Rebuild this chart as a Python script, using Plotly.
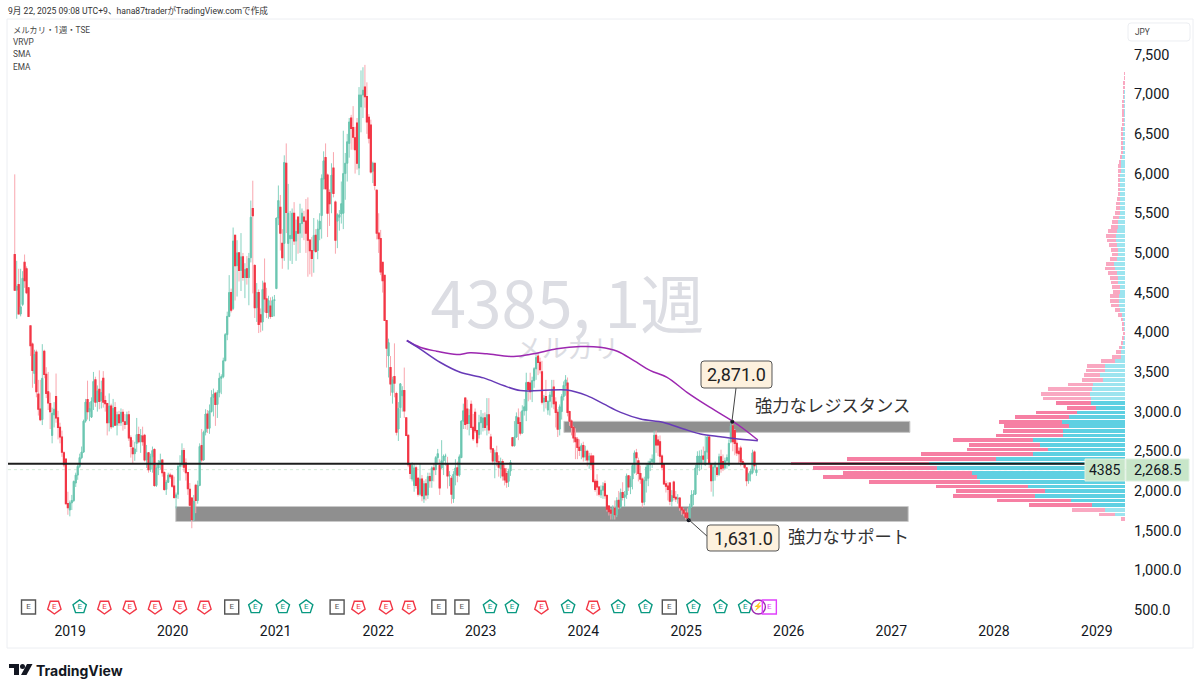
import pandas as pd
import plotly.graph_objects as go

# weekly candles, 13 per row
open_ = [
    4980, 4530, 4600, 4230, 4350, 4880, 4800, 4560, 4080, 3850, 3480, 3750, 3220,
    3030, 2900, 3760, 3470, 3250, 3100, 2700, 2960, 3190, 2920, 2800, 2680, 2480,
    2400, 1840, 1760, 1850, 1880, 2100, 2200, 2310, 2420, 2490, 2880, 3150, 3000,
    2930, 3130, 3400, 3120, 3280, 3140, 3420, 3140, 3100, 2860, 3070, 2810, 3050,
    2830, 2960, 2860, 2990, 2870, 2840, 2960, 2670, 2540, 2470, 2600, 2710, 2620,
    2690, 2700, 2390, 2480, 2270, 2430, 2520, 2070, 2290, 2340, 2390, 2230, 2020,
    2110, 2200, 2190, 2060, 1920, 1960, 2310, 2330, 2510, 2350, 2230, 2020, 1910,
    1640, 2070, 1880, 2070, 2570, 2390, 2740, 2970, 2790, 3000, 3180, 3230, 3090,
    3240, 3420, 3440, 3640, 3970, 4200, 4500, 4300, 5220, 4840, 5000, 4780, 4950,
    4690, 4800, 4690, 4940, 5560, 4840, 4310, 4500, 4220, 4130, 4620, 4420, 4250,
    4330, 4200, 4400, 4550, 5440, 5575, 5120, 5120, 6130, 5120, 5180, 5180, 5500,
    5150, 5450, 5250, 5370, 5450, 5400, 5540, 5160, 5030, 5030, 5220, 5030, 5300,
    5470, 5930, 6200, 5980, 5760, 5760, 6070, 5640, 5400, 5450, 5490, 5500, 6000,
    6130, 6380, 6700, 6580, 6450, 6635, 6070, 6840, 6990, 7090, 6970, 6710, 6610,
    6030, 6130, 5790, 5250, 5180, 4880, 4716, 4148, 3700, 3555, 3240, 3440, 3227,
    2780, 3050, 3200, 3265, 2920, 2700, 2340, 2150, 2070, 2290, 2160, 1960, 2150,
    1900, 2090, 1950, 2180, 2130, 2290, 2270, 2420, 2320, 2290, 2380, 2440, 2340,
    2190, 2160, 1900, 2210, 2290, 2200, 2420, 2880, 3170, 3030, 2850, 3090, 2800,
    2990, 2760, 2710, 2860, 2800, 2920, 2830, 2960, 2680, 2530, 2380, 2480, 2370,
    2280, 2370, 2280, 2220, 2120, 2250, 2670, 2570, 2680, 2920, 2860, 2730, 3010,
    3012, 3365, 3360, 3260, 3390, 3540, 3700, 3620, 3500, 3120, 3190, 3020, 3130,
    3190, 3310, 3120, 2990, 2780, 3000, 3190, 3330, 3360, 3000, 2880, 2800, 2670,
    2650, 2550, 2510, 2570, 2430, 2500, 2390, 2440, 2440, 2120, 2120, 2050, 1950,
    2010, 2090, 1940, 1810, 1760, 1690, 1780, 1700, 1880, 1800, 1980, 1920, 1950,
    2190, 2050, 2150, 2230, 2480, 2380, 2220, 2150, 1860, 2130, 2160, 2330, 2370,
    2360, 2700, 2640, 2620, 2440, 2340, 2090, 2060, 2100, 1870, 2110, 1920, 1900,
    1910, 1790, 1760, 1720, 1720, 1660, 1800, 1950, 1960, 2290, 2340, 2340, 2440,
    2330, 2490, 2680, 2340, 2130, 2300, 2290, 2210, 2430, 2370, 2290, 2380, 2320,
    2620, 2820, 2760, 2600, 2500, 2540, 2370, 2340, 2290, 2130, 2210, 2230, 2490, 2230,
]
high = [
    5990, 4900, 4800, 4800, 4770, 4980, 4830, 4560, 4080, 3870, 3780, 3780, 3400,
    3400, 3850, 3780, 3560, 3500, 3240, 3050, 3120, 3480, 3010, 2860, 2760, 2500,
    2400, 1990, 1880, 1950, 2130, 2230, 2350, 2470, 2560, 2900, 3160, 3390, 3120,
    3180, 3500, 3440, 3330, 3520, 3390, 3510, 3200, 3110, 3230, 3100, 3160, 3120,
    3000, 3010, 3040, 3030, 2970, 3000, 3010, 2700, 2640, 2620, 2920, 2810, 2780,
    2810, 2720, 2580, 2490, 2470, 2560, 2540, 2330, 2390, 2470, 2400, 2250, 2140,
    2230, 2230, 2210, 2180, 1980, 2340, 2450, 2600, 2540, 2410, 2240, 2100, 1920,
    1950, 2090, 2130, 2600, 2780, 2760, 3030, 3020, 3090, 3270, 3290, 3250, 3270,
    3490, 3470, 3680, 3990, 4260, 4720, 4550, 5320, 5230, 5160, 5000, 5250, 5000,
    4870, 4960, 5000, 5660, 5910, 4860, 4620, 4540, 4300, 4650, 4930, 4560, 4460,
    4440, 4450, 4470, 5440, 5850, 5730, 5300, 6230, 6380, 5870, 5530, 5560, 5640,
    5420, 5450, 5620, 5560, 5530, 5680, 5700, 5170, 5200, 5440, 5300, 5420, 5500,
    5990, 6280, 6380, 6000, 5800, 6130, 6270, 5660, 5500, 5540, 5900, 6540, 6260,
    6500, 6700, 6740, 6850, 6590, 6700, 7090, 7300, 7340, 7370, 7150, 6750, 6680,
    6150, 6130, 5800, 5500, 5290, 4880, 4720, 4150, 3920, 3700, 3440, 3860, 3250,
    3120, 3360, 3320, 3555, 2930, 2710, 2340, 2360, 2340, 2320, 2170, 2350, 2200,
    2130, 2150, 2230, 2230, 2310, 2350, 2440, 2530, 2400, 2640, 2460, 2470, 2430,
    2250, 2190, 2250, 2400, 2370, 2460, 2890, 3100, 3180, 3150, 3030, 3140, 2970,
    3040, 2770, 2960, 3020, 2980, 2990, 3170, 3170, 2720, 2540, 2520, 2570, 2450,
    2420, 2400, 2330, 2290, 2280, 2390, 2680, 2880, 2990, 3040, 3000, 3080, 3160,
    3490, 3380, 3490, 3440, 3560, 3720, 3750, 3680, 3640, 3210, 3400, 3140, 3250,
    3400, 3400, 3180, 3030, 3090, 3220, 3380, 3460, 3430, 3010, 2900, 2820, 2790,
    2680, 2650, 2600, 2620, 2570, 2520, 2480, 2480, 2450, 2150, 2210, 2060, 2070,
    2110, 2130, 1960, 1820, 1780, 1820, 1880, 1920, 2000, 2030, 2110, 2000, 2220,
    2200, 2190, 2350, 2510, 2530, 2420, 2320, 2170, 2180, 2340, 2380, 2410, 2460,
    2760, 2760, 2690, 2700, 2460, 2350, 2130, 2110, 2110, 2010, 2130, 2000, 1960,
    1920, 1810, 1780, 1750, 1780, 1840, 2010, 2010, 2330, 2500, 2510, 2520, 2560,
    2690, 2690, 2700, 2350, 2340, 2370, 2340, 2470, 2520, 2460, 2420, 2460, 2650,
    2871, 2860, 2780, 2640, 2550, 2570, 2400, 2360, 2300, 2230, 2280, 2520, 2510, 2340,
]
low = [
    4530, 4170, 4230, 4200, 4330, 4560, 4480, 4200, 3700, 3300, 3350, 3180, 2950,
    2880, 2830, 3420, 3170, 3020, 2780, 2600, 2800, 2860, 2650, 2600, 2430, 2300,
    1830, 1700, 1680, 1760, 1860, 2050, 2140, 2290, 2400, 2480, 2860, 2900, 2880,
    2920, 3020, 3060, 3000, 3030, 3040, 3050, 3000, 2700, 2750, 2780, 2800, 2820,
    2700, 2820, 2820, 2760, 2780, 2840, 2630, 2420, 2350, 2380, 2490, 2600, 2480,
    2570, 2370, 2290, 2230, 2240, 2230, 2050, 2050, 2200, 2270, 2180, 2000, 1950,
    2100, 2150, 2040, 1900, 1780, 1900, 2130, 2300, 2240, 2130, 1950, 1800, 1530,
    1620, 1720, 1840, 2060, 2360, 2380, 2700, 2730, 2720, 2990, 2940, 2820, 2920,
    3180, 3220, 3420, 3640, 3900, 4190, 4250, 4280, 4400, 4450, 4640, 4520, 4650,
    4430, 4600, 4340, 4880, 4490, 4180, 4130, 3990, 4000, 4020, 4250, 4180, 4170,
    4170, 4200, 4200, 4550, 5350, 5030, 4800, 4900, 5250, 4790, 4900, 4860, 5100,
    4900, 4990, 5000, 5190, 5160, 5000, 4700, 4730, 4700, 4750, 5000, 4920, 5160,
    5180, 5800, 5800, 5200, 5340, 5500, 5700, 4990, 5060, 5280, 5370, 5300, 5670,
    5900, 6200, 6300, 6300, 6000, 6050, 5980, 6520, 6700, 6830, 6500, 6380, 6000,
    5880, 5790, 5170, 5000, 4720, 4500, 4148, 3555, 3430, 3200, 3100, 3180, 2700,
    2630, 2920, 3000, 2920, 2690, 2300, 2150, 2120, 1990, 2030, 1930, 1940, 1870,
    1850, 1880, 1900, 2040, 2040, 2120, 2200, 2350, 1950, 2280, 2200, 2320, 2030,
    2060, 1840, 1850, 2070, 2110, 2180, 2420, 2780, 2780, 2770, 2700, 2770, 2630,
    2730, 2550, 2660, 2710, 2750, 2760, 2700, 2720, 2480, 2330, 2160, 2310, 2180,
    2160, 2130, 2070, 2040, 2050, 2190, 2560, 2560, 2670, 2640, 2700, 2720, 2950,
    2880, 3130, 3150, 3120, 3300, 3400, 3460, 3480, 3090, 3000, 3040, 2960, 2950,
    3050, 3030, 2800, 2680, 2700, 2900, 3140, 3200, 2940, 2820, 2700, 2610, 2400,
    2400, 2440, 2400, 2370, 2380, 2310, 2280, 2280, 2100, 1990, 1940, 1930, 1910,
    1900, 1900, 1740, 1690, 1640, 1640, 1640, 1670, 1770, 1780, 1880, 1800, 1900,
    2000, 1960, 2020, 2220, 2200, 2120, 2090, 1790, 1820, 1980, 2060, 2250, 2290,
    2330, 2480, 2440, 2350, 2260, 2080, 1980, 1880, 1820, 1800, 1880, 1860, 1840,
    1750, 1700, 1680, 1640, 1631, 1640, 1790, 1820, 1950, 2200, 2250, 2270, 2340,
    2320, 2400, 2290, 1990, 1930, 2130, 2180, 2190, 2230, 2250, 2270, 2280, 2310,
    2600, 2500, 2450, 2440, 2350, 2310, 2330, 2280, 2060, 2090, 2120, 2210, 2260, 2190,
]
close = [
    4530, 4580, 4230, 4320, 4680, 4650, 4500, 4200, 3830, 3520, 3720, 3250, 3030,
    2900, 3420, 3470, 3230, 3110, 3000, 2980, 3030, 2920, 2800, 2680, 2490, 2330,
    1840, 1790, 1850, 1880, 2120, 2200, 2310, 2420, 2490, 2880, 3120, 3000, 3040,
    3130, 3380, 3120, 3260, 3130, 3240, 3120, 3100, 2860, 3070, 2810, 3040, 2830,
    2960, 2860, 2990, 2880, 2840, 2960, 2670, 2560, 2470, 2530, 2710, 2620, 2700,
    2620, 2390, 2480, 2270, 2430, 2510, 2070, 2290, 2340, 2380, 2230, 2020, 2110,
    2200, 2180, 2060, 1920, 1950, 2310, 2330, 2510, 2300, 2230, 2030, 1820, 1640,
    1870, 1880, 2070, 2560, 2390, 2740, 2970, 2790, 3010, 3180, 3220, 3090, 3240,
    3420, 3440, 3640, 3970, 4200, 4500, 4280, 5150, 4840, 5000, 4780, 4950, 4690,
    4790, 4690, 4930, 5450, 5470, 4310, 4500, 4100, 4130, 4540, 4420, 4250, 4400,
    4200, 4400, 4410, 5440, 5660, 5250, 4940, 6140, 5510, 5500, 5220, 5500, 5150,
    5270, 5250, 5370, 5500, 5400, 5250, 5160, 5030, 4930, 5220, 5020, 5300, 5400,
    5940, 6160, 5810, 5500, 5620, 5980, 5750, 5160, 5480, 5480, 5620, 6000, 6130,
    6400, 6650, 6570, 6460, 6300, 6130, 6990, 6990, 7050, 6970, 6650, 6445, 6020,
    6130, 5850, 5250, 5180, 4760, 4650, 4150, 3800, 3870, 3350, 3400, 3360, 2740,
    3040, 3350, 3265, 3010, 2700, 2330, 2220, 2320, 2290, 2070, 1960, 2150, 1940,
    2090, 1950, 2180, 2130, 2290, 2270, 2420, 2470, 2040, 2380, 2440, 2440, 2190,
    2200, 1960, 2210, 2290, 2200, 2430, 2880, 3010, 2840, 2850, 2950, 2800, 2660,
    2760, 2610, 2860, 2930, 2920, 2800, 2960, 2770, 2530, 2380, 2480, 2370, 2300,
    2370, 2190, 2140, 2110, 2250, 2360, 2570, 2680, 2940, 2850, 2730, 3010, 3060,
    3365, 3280, 3250, 3390, 3540, 3680, 3620, 3530, 3120, 3170, 3130, 3130, 3210,
    3280, 3100, 2990, 2780, 3060, 3190, 3330, 3400, 2990, 2880, 2800, 2670, 2620,
    2550, 2510, 2570, 2430, 2500, 2390, 2440, 2330, 2120, 2020, 2050, 1960, 2010,
    2060, 1940, 1770, 1740, 1720, 1780, 1700, 1880, 1800, 1980, 1920, 1950, 2190,
    2050, 2150, 2320, 2480, 2420, 2220, 2150, 1860, 2130, 2300, 2330, 2370, 2400,
    2700, 2580, 2580, 2440, 2300, 2090, 2060, 2020, 1870, 1940, 1920, 1900, 1910,
    1790, 1760, 1720, 1670, 1660, 1800, 1950, 1960, 2290, 2440, 2440, 2440, 2400,
    2500, 2680, 2350, 2130, 2300, 2330, 2210, 2430, 2280, 2290, 2380, 2420, 2600,
    2820, 2620, 2600, 2480, 2470, 2370, 2340, 2300, 2130, 2210, 2250, 2480, 2320, 2268.5,
]

# moving averages, read at a few dates along each line
sma_dates = ["2022-04-13", "2022-05-30", "2022-07-28", "2022-10-08", "2022-11-24", "2023-01-23",
             "2023-04-28", "2023-07-08", "2023-09-29", "2023-12-22", "2024-03-01", "2024-05-01",
             "2024-06-29", "2024-08-27", "2024-10-25", "2025-01-04", "2025-03-17", "2025-06-08",
             "2025-07-25", "2025-09-13"]
sma_vals = [3896, 3811, 3761, 3719, 3741, 3728, 3694, 3728, 3791, 3820, 3811, 3761,
            3643, 3517, 3432, 3243, 3075, 2895, 2781, 2642]
ema_dates = ["2022-04-13", "2022-05-30", "2022-08-09", "2022-10-20", "2023-01-11", "2023-03-23",
             "2023-05-22", "2023-08-01", "2023-11-04", "2024-01-14", "2024-03-13", "2024-05-13",
             "2024-07-23", "2024-10-13", "2024-12-23", "2025-02-21", "2025-05-03", "2025-06-20",
             "2025-09-13"]
ema_vals = [3896, 3791, 3622, 3496, 3425, 3328, 3265, 3265, 3273, 3202, 3097, 2991,
            2907, 2864, 2781, 2718, 2684, 2662, 2633]

# visible range volume profile, bottom bin upward
vp_up = [0, 10, 20, 32.7, 54, 90, 80, 97.3, 145, 147.7, 153, 188.3, 195.7, 129.3, 91.7, 76.7, 84.7, 91.7,
         61.7, 61.7, 55.7, 63, 55.7, 48.3, 29, 34, 34, 35.3, 32.7, 31.7, 21.7, 25, 20, 20, 10, 4.3, 4.3,
         2.7, 1.7, 1, 0.7, 1, 1.3, 2, 3, 4.7, 5.7, 6, 6, 5, 5.3, 6.7, 7, 8, 10, 11, 8, 7, 7, 8.3, 9, 9,
         7.7, 7, 7, 6, 5.3, 5, 5.3, 5, 5, 5.3, 5.3, 5.3, 5, 4.3, 4.3, 3.7, 3, 2.3, 2, 2.3, 2.3, 2.3, 2,
         1.7, 1.7, 1.7, 1.7, 1.3, 1.3, 1, 1, 0.7, 0.7, 0.3, 0.3]
vp_down = [4.3, 16, 32.7, 63.3, 74.3, 82.3, 89, 91.7, 110.7, 154, 129, 124, 138.3, 148.7, 112.3, 81.3, 71.3,
           80.7, 67.3, 60.3, 65.3, 62.7, 54.3, 40.7, 28.7, 34.7, 48.3, 48.3, 44, 25.3, 21, 15.7, 19.3, 18.3,
           14.3, 8.7, 5, 3, 2, 1.3, 1, 1.3, 2, 2.3, 3.7, 5.3, 8.3, 9, 9, 7.3, 7.7, 7.7, 8, 9.3, 9.7, 8, 7,
           6, 6.7, 7.3, 9.3, 10, 9, 7.3, 6.3, 5.7, 4.7, 4.3, 3.7, 3, 2, 1.3, 1, 1, 2, 3, 2.7, 2.7, 2, 1.7,
           1.7, 2, 2, 2, 1.7, 1.7, 1.3, 1, 1, 1, 1, 1, 0.7, 0.7, 0.7, 0.7, 0.5]
vp_first_bin = 1645
vp_bin_size = 58.5
value_area = (1800, 3130)

y_ticks = [7500, 7000, 6500, 6000, 5500, 5000, 4500, 4000, 3500, 3000, 2500, 2000, 1500, 1000, 500]
y_labels = ["7,500", "7,000", "6,500", "6,000", "5,500", "5,000", "4,500", "4,000", "3,500",
            "3,000.0", "2,500.0", "2,000.0", "1,500.0", "1,000.0", "500.0"]
year_labels = [2019, 2020, 2021, 2022, 2023, 2024, 2025, 2026, 2027, 2028, 2029]

earn_gray = ["2018-08-06", "2020-07-29", "2021-08-08", "2022-08-05", "2022-10-26", "2024-11-02"]
earn_red = ["2018-11-06", "2019-05-03", "2019-08-01", "2019-10-30", "2020-01-27", "2020-04-23",
            "2021-10-23", "2022-01-29", "2022-04-21", "2023-08-05", "2024-02-05"]
earn_teal = ["2019-02-04", "2020-10-21", "2021-01-27", "2021-04-20", "2023-02-03", "2023-04-22",
             "2023-11-08", "2024-05-04", "2024-08-09", "2025-01-27", "2025-05-03", "2025-07-30"]
earn_split = ["2025-09-15"]
earn_next = ["2025-10-24"]

# price levels on the chart
hline_price = 2343
last_price = 2268.5
resist_zone = ("2023-10-24", "2027-03-08", 2738, 2877)
support_zone = ("2020-01-12", "2027-03-02", 1615, 1804)
peak_point = ("2025-06-14", 2871)
trough_point = ("2025-01-10", 1631)

FONT = "Roboto, Noto Sans CJK JP"
JP = "Noto Sans CJK JP"
L, R, T, B = 8, 1126, 19, 621


def px(x):
    return (x - L) / (R - L)


def py(y):
    return (B - y) / (B - T)


def rounded(x0, y0, x1, y1, r=3):
    # rounded box path on the page, paper coordinates
    pts = [("M", x0 + r, y0), ("L", x1 - r, y0), ("Q", x1, y0, x1, y0 + r), ("L", x1, y1 - r),
           ("Q", x1, y1, x1 - r, y1), ("L", x0 + r, y1), ("Q", x0, y1, x0, y1 - r), ("L", x0, y0 + r),
           ("Q", x0, y0, x0 + r, y0)]
    out = ""
    for p in pts:
        out += p[0]
        for i, v in enumerate(p[1:]):
            out += f" {px(v) if i % 2 == 0 else py(v):.5f}"
        out += " "
    return out + "Z"


def poly(points):
    return "M " + " L ".join(f"{px(a):.5f} {py(b):.5f}" for a, b in points) + " Z"


def label(x, y, text, size=9, color="#444444", anchor="left", family=FONT):
    return dict(xref="paper", yref="paper", x=px(x), y=py(y), text=text, showarrow=False, xanchor=anchor,
                yanchor="middle", font=dict(size=size, color=color, family=family), borderpad=0)


assert len(open_) == len(high) == len(low) == len(close), (len(open_), len(high), len(low), len(close))
dates = pd.date_range("2018-06-18", periods=len(close), freq="W-MON")
vp_price = [vp_first_bin + i * vp_bin_size for i in range(len(vp_up))]
in_area = [value_area[0] <= p <= value_area[1] for p in vp_price]
body_top = [max(o, c) for o, c in zip(open_, close)]
body_bot = [min(o, c) for o, c in zip(open_, close)]

fig = go.Figure()

# watermark goes under everything
fig.add_trace(go.Scatter(x=["2023-11-05", "2023-11-05"], y=[4260, 3760], mode="text",
                         text=["4385, 1週", "メルカリ"], cliponaxis=False, hoverinfo="skip",
                         textfont=dict(size=[64, 26], color="#dcdde3", family=JP)))

# pale wicks first, then the stronger bodies on top
fig.add_trace(go.Candlestick(x=dates, open=open_, high=high, low=low, close=close, whiskerwidth=0,
                             increasing=dict(line=dict(color="#86d2c0", width=1), fillcolor="#86d2c0"),
                             decreasing=dict(line=dict(color="#f9a6ae", width=1), fillcolor="#f9a6ae")))
fig.add_trace(go.Candlestick(x=dates, open=open_, high=body_top, low=body_bot, close=close, whiskerwidth=0,
                             increasing=dict(line=dict(color="#6cc6b1", width=1), fillcolor="#6cc6b1"),
                             decreasing=dict(line=dict(color="#f23645", width=1.2), fillcolor="#f23645")))

fig.add_trace(go.Scatter(x=sma_dates, y=sma_vals, mode="lines", line=dict(color="#9c27b0", width=1.5, shape="spline")))
fig.add_trace(go.Scatter(x=ema_dates, y=ema_vals, mode="lines", line=dict(color="#673ab7", width=1.5, shape="spline")))

fig.add_trace(go.Bar(y=vp_price, x=vp_up, orientation="h", xaxis="x2", width=vp_bin_size * 0.8,
                     marker=dict(color=["#5fd0e2" if a else "#9ce4ef" for a in in_area], line_width=0)))
fig.add_trace(go.Bar(y=vp_price, x=vp_down, orientation="h", xaxis="x2", width=vp_bin_size * 0.8,
                     marker=dict(color=["#f67fa3" if a else "#f9a8c1" for a in in_area], line_width=0)))

# callout anchor dots
fig.add_trace(go.Scatter(x=[peak_point[0], trough_point[0]], y=[peak_point[1], trough_point[1]], mode="markers",
                         marker=dict(color="#131722", size=4)))

# earnings flags
for dd, col, sym, ang, txt in [(earn_gray, "#555555", "square-open", 0, "E"),
                               (earn_red, "#f23645", "pentagon-open", 180, "E"),
                               (earn_teal, "#089981", "pentagon-open", 0, "E"),
                               (earn_split, "#9c27b0", "circle-open", 0, "⚡"),
                               (earn_next, "#e040fb", "square-open", 0, "E")]:
    fig.add_trace(go.Scatter(x=dd, y=[538] * len(dd), mode="markers+text", text=[txt] * len(dd),
                             textposition="middle center", textfont=dict(size=8, color=col, family=FONT),
                             marker=dict(symbol=sym, size=14, angle=ang, color=col, line=dict(color=col, width=1.4))))

shapes = [
    # chart frame and axis tag
    dict(type="rect", xref="paper", yref="paper", x0=px(7), x1=px(1193), y0=py(648), y1=py(19),
         line=dict(color="#eceef2", width=1), layer="below"),
    dict(type="path", xref="paper", yref="paper", path=rounded(1128, 23, 1190, 41), line=dict(color="#eceef2", width=1)),
    # zones
    dict(type="rect", x0=resist_zone[0], x1=resist_zone[1], y0=resist_zone[2], y1=resist_zone[3],
         fillcolor="#8f8f8f", line=dict(color="#c9c9c9", width=1), layer="below"),
    dict(type="rect", x0=support_zone[0], x1=support_zone[1], y0=support_zone[2], y1=support_zone[3],
         fillcolor="#8f8f8f", line=dict(color="#c9c9c9", width=1), layer="below"),
    # drawn level and last price
    dict(type="line", xref="paper", x0=0, x1=px(1086), y0=hline_price, y1=hline_price,
         line=dict(color="#1e1e1e", width=1.8)),
    dict(type="line", xref="paper", x0=0, x1=px(1126), y0=last_price, y1=last_price,
         line=dict(color="#d5ecd9", width=1, dash="dot"), layer="below"),
    # price tags
    dict(type="rect", xref="paper", yref="paper", x0=px(1085), x1=px(1125), y0=py(481), y1=py(459),
         fillcolor="#c8e6c9", line=dict(color="#dff0e0", width=1)),
    dict(type="rect", xref="paper", yref="paper", x0=px(1126), x1=px(1189), y0=py(481), y1=py(459),
         fillcolor="#c8e6c9", line=dict(color="#dff0e0", width=1)),
    # callouts
    dict(type="line", xref="paper", yref="paper", x0=px(732), x1=px(736), y0=py(421), y1=py(388),
         line=dict(color="#444444", width=1)),
    dict(type="line", xref="paper", yref="paper", x0=px(688), x1=px(708), y0=py(519), y1=py(537),
         line=dict(color="#444444", width=1)),
    dict(type="path", xref="paper", yref="paper", path=rounded(701, 361, 772, 388), fillcolor="#fdf1de",
         line=dict(color="#555555", width=1)),
    dict(type="path", xref="paper", yref="paper", path=rounded(707, 525, 779, 551), fillcolor="#fdf1de",
         line=dict(color="#555555", width=1)),
    # TradingView logo
    dict(type="path", xref="paper", yref="paper", fillcolor="#131722", line_width=0,
         path=poly([(9, 664), (19, 664), (19, 675), (14, 675), (14, 668), (9, 668)])),
    dict(type="circle", xref="paper", yref="paper", x0=px(20), x1=px(25), y0=py(669), y1=py(664),
         fillcolor="#131722", line_width=0),
    dict(type="path", xref="paper", yref="paper", fillcolor="#131722", line_width=0,
         path=poly([(27, 664), (32.5, 664), (26.5, 675), (21, 675)])),
]

annotations = [
    label(7, 10, "9月 22, 2025 09:08 UTC+9、hana87traderがTradingView.comで作成", size=8.6, color="#333333"),
    label(11.5, 30, "メルカリ・1週・TSE", size=8.3),
    label(11.5, 42, "VRVP", size=8.3),
    label(11.5, 54, "SMA", size=8.3),
    label(11.5, 67, "EMA", size=8.3),
    label(1134, 32, "JPY", size=8.3),
    label(736.5, 374.5, "2,871.0", size=18, color="#222222", anchor="center"),
    label(743, 538, "1,631.0", size=18, color="#222222", anchor="center"),
    label(754, 404, "強力なレジスタンス", size=17.3, color="#333333", family=JP),
    label(787, 535, "強力なサポート", size=17.3, color="#333333", family=JP),
    label(1105, 470, "4385", size=14, color="#131722", anchor="center"),
    label(1157, 470, "2,268.5", size=14.5, color="#131722", anchor="center"),
    label(35, 670, "<b>TradingView</b>", size=14, color="#131722", family="Inter"),
]

fig.update_layout(
    width=1200, height=691, showlegend=False, barmode="stack", bargap=0,
    paper_bgcolor="white", plot_bgcolor="white", font=dict(family=FONT, color="#131722"),
    margin=dict(l=L, r=1200 - R, t=T, b=691 - B),
    shapes=shapes, annotations=annotations,
    xaxis=dict(type="date", range=["2018-05-25", "2029-04-15"], rangeslider_visible=False, showgrid=False,
               zeroline=False, showline=False, tickvals=[f"{y}-01-01" for y in year_labels],
               ticktext=[str(y) for y in year_labels], tickfont=dict(size=14), ticks=""),
    xaxis2=dict(overlaying="x", range=[1117, -1], visible=False),
    yaxis=dict(side="right", range=[361, 7948], showgrid=False, zeroline=False, showline=False, ticks="",
               tickvals=y_ticks, ticktext=y_labels, tickfont=dict(size=14.5), ticklabelstandoff=7),
)

fig.write_html("out.html", post_script="document.body.style.margin='0';", config={"displayModeBar": False})
